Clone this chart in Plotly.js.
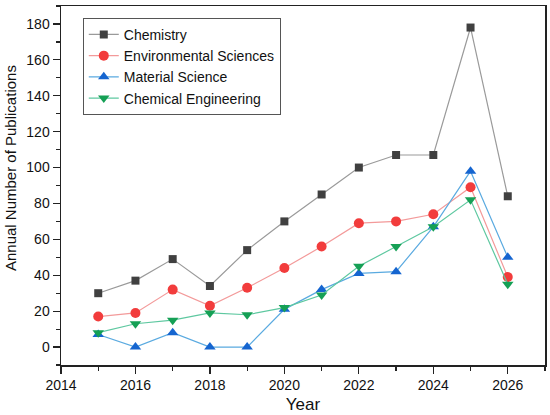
<!DOCTYPE html>
<html>
<head>
<meta charset="utf-8">
<script src="https://cdn.plot.ly/plotly-3.0.1.min.js"></script>
<style>html,body{margin:0;padding:0;background:#fff;}#chart{width:550px;height:415px;}</style>
</head>
<body>
<div id="chart"></div>
<script>
var years = [2015, 2016, 2017, 2018, 2019, 2020, 2021, 2022, 2023, 2024, 2025, 2026];
var chemistry = [30, 37, 49, 34, 54, 70, 85, 100, 107, 107, 178, 84];
var environmental = [17, 19, 32, 23, 33, 44, 56, 69, 70, 74, 89, 39];
var material = [7, 0, 8, 0, 0, 21, 32, 41, 42, 67, 98, 50];
var chemEng = [8, 13, 15, 19, 18, 22, 29, 45, 56, 67, 82, 35];
var seriesNames = ["Chemistry", "Environmental Sciences", "Material Science", "Chemical Engineering"];
var xTitle = "Year";
var yTitle = "Annual Number of Publications";

var traces = [
  {x: years, y: chemistry, name: seriesNames[0], mode: 'lines+markers',
   line: {color: '#9a9a9a', width: 1.2},
   marker: {symbol: 'square', size: 8, color: '#404040'}},
  {x: years, y: environmental, name: seriesNames[1], mode: 'lines+markers',
   line: {color: '#f39a9a', width: 1.2},
   marker: {symbol: 'circle', size: 10, color: '#f23c3c'}},
  {x: years, y: material, name: seriesNames[2], mode: 'lines+markers',
   line: {color: '#5aaae0', width: 1.2},
   marker: {symbol: 'triangle-up', size: 10, color: '#1565d0'}},
  {x: years, y: chemEng, name: seriesNames[3], mode: 'lines+markers',
   line: {color: '#5ec8a0', width: 1.2},
   marker: {symbol: 'triangle-down', size: 10, color: '#15a055'}}
];

var fam = 'Liberation Sans, Arial, sans-serif';
var axisFont = {family: fam, size: 14, color: '#111'};
var layout = {
  width: 550, height: 415,
  margin: {l: 61, r: 5, t: 6, b: 50},
  paper_bgcolor: '#fff', plot_bgcolor: '#fff',
  font: {family: fam, color: '#111'},
  showlegend: true,
  legend: {
    x: 0.045, y: 0.967, xanchor: 'left', yanchor: 'top',
    bordercolor: '#555', borderwidth: 1, bgcolor: 'rgba(255,255,255,0)',
    font: {family: fam, size: 14, color: '#111'},
    tracegroupgap: 0
  },
  xaxis: {
    range: [2014, 2027], dtick: 2, tick0: 2014,
    ticks: 'outside', ticklen: 7, tickwidth: 1.2, tickcolor: '#222',
    minor: {dtick: 1, ticks: 'outside', ticklen: 4, tickcolor: '#222', tickwidth: 1.2},
    showgrid: false, zeroline: false,
    showline: true, linecolor: '#222', linewidth: 1.5, mirror: true,
    tickfont: axisFont,
    title: {text: xTitle, font: {family: fam, size: 17, color: '#111'}, standoff: 6}
  },
  yaxis: {
    range: [-10, 190], dtick: 20, tick0: 0,
    ticks: 'outside', ticklen: 7, tickwidth: 1.2, tickcolor: '#222',
    minor: {dtick: 10, ticks: 'outside', ticklen: 4, tickcolor: '#222', tickwidth: 1.2},
    showgrid: false, zeroline: false,
    showline: true, linecolor: '#222', linewidth: 1.5, mirror: true,
    tickfont: axisFont
  },
  annotations: [{
    text: yTitle, xref: 'paper', yref: 'paper',
    x: -0.103, y: 0.549, xanchor: 'center', yanchor: 'middle',
    textangle: -90, showarrow: false,
    font: {family: fam, size: 15, color: '#111'}
  }]
};

Plotly.newPlot('chart', traces, layout, {displayModeBar: false, staticPlot: true});
</script>
</body>
</html>
